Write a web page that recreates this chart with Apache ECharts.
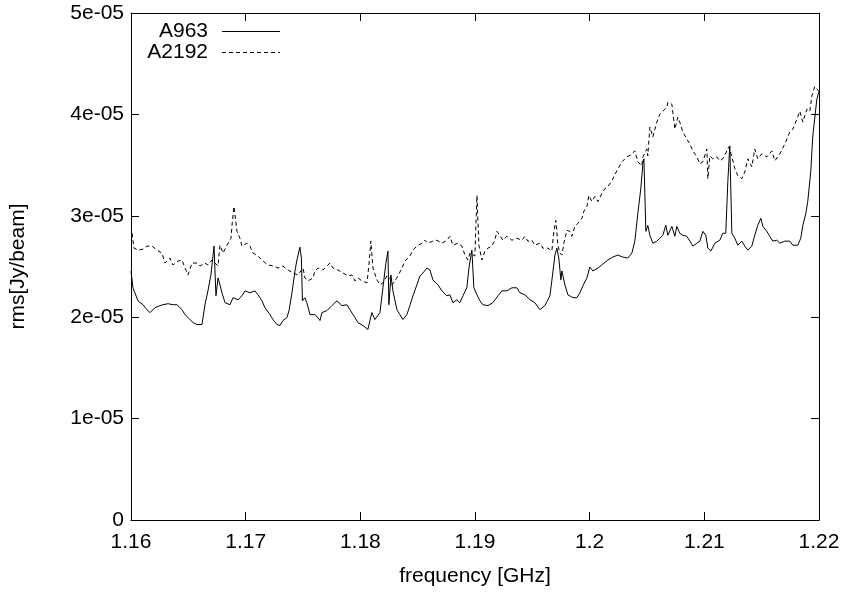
<!DOCTYPE html>
<html>
<head>
<meta charset="utf-8">
<script src="https://cdn.jsdelivr.net/npm/echarts@6/dist/echarts.min.js"></script>
<style>
  html, body { margin: 0; padding: 0; background: #fff; }
  #chart { width: 845px; height: 592px; }
</style>
</head>
<body>
<div id="chart"></div>
<script>
// Noise rms per channel for the two cluster fields.
// Frequencies in GHz, rms values in units of 1e-05 Jy/beam.
const a963Freq = [
  1.16000,1.16017,1.16061,1.16105,1.16139,1.16166,1.16209,1.16253,1.16279,1.16323,
  1.16366,1.16401,1.16445,1.16471,1.16514,1.16541,1.16575,1.16619,1.16628,1.16645,
  1.16671,1.16697,1.16724,1.16741,1.16759,1.16776,1.16793,1.16820,1.16863,1.16889,
  1.16933,1.16968,1.16994,1.17037,1.17081,1.17107,1.17142,1.17168,1.17212,1.17238,
  1.17273,1.17299,1.17325,1.17360,1.17378,1.17404,1.17430,1.17447,1.17473,1.17486,
  1.17495,1.17517,1.17534,1.17561,1.17604,1.17630,1.17648,1.17665,1.17709,1.17752,
  1.17796,1.17840,1.17883,1.17909,1.17953,1.17979,1.18023,1.18066,1.18084,1.18101,
  1.18127,1.18171,1.18197,1.18223,1.18241,1.18249,1.18267,1.18284,1.18319,1.18345,
  1.18371,1.18406,1.18432,1.18459,1.18493,1.18520,1.18546,1.18581,1.18607,1.18633,
  1.18677,1.18711,1.18755,1.18781,1.18807,1.18842,1.18868,1.18895,1.18929,1.18947,
  1.18973,1.18990,1.19017,1.19043,1.19069,1.19113,1.19156,1.19200,1.19235,1.19278,
  1.19322,1.19365,1.19391,1.19435,1.19479,1.19522,1.19566,1.19609,1.19653,1.19670,
  1.19697,1.19714,1.19731,1.19749,1.19758,1.19784,1.19810,1.19854,1.19888,1.19915,
  1.19941,1.19976,1.20002,1.20028,1.20072,1.20115,1.20159,1.20202,1.20246,1.20289,
  1.20333,1.20368,1.20394,1.20420,1.20446,1.20464,1.20473,1.20490,1.20507,1.20525,
  1.20551,1.20586,1.20612,1.20638,1.20664,1.20682,1.20717,1.20743,1.20760,1.20786,
  1.20813,1.20847,1.20874,1.20900,1.20935,1.20961,1.20987,1.21013,1.21031,1.21057,
  1.21092,1.21135,1.21161,1.21187,1.21205,1.21222,1.21240,1.21266,1.21292,1.21327,
  1.21353,1.21379,1.21414,1.21440,1.21466,1.21493,1.21510,1.21545,1.21571,1.21597,
  1.21632,1.21658,1.21702,1.21745,1.21772,1.21815,1.21841,1.21859,1.21885,1.21902,
  1.21928,1.21946,1.21981,1.22000
];
const a963Rms = [
  2.456,2.290,2.162,2.123,2.074,2.045,2.094,2.114,2.123,2.133,
  2.123,2.123,2.074,2.025,1.977,1.947,1.928,1.928,1.996,2.123,
  2.260,2.417,2.701,2.211,2.387,2.319,2.241,2.143,2.123,2.192,
  2.172,2.211,2.260,2.241,2.260,2.221,2.162,2.094,2.025,1.977,
  1.928,1.918,1.967,1.996,2.065,2.241,2.456,2.564,2.691,2.583,
  2.162,2.192,2.143,2.025,2.025,1.996,1.967,2.045,2.065,2.114,
  2.162,2.114,2.123,2.074,1.996,1.947,1.918,1.879,1.967,2.045,
  1.977,2.045,2.290,2.534,2.652,2.123,2.417,2.260,2.074,2.025,
  1.977,2.025,2.114,2.211,2.319,2.407,2.436,2.485,2.466,2.368,
  2.319,2.260,2.211,2.221,2.143,2.172,2.143,2.211,2.290,2.485,
  2.661,2.290,2.221,2.162,2.123,2.114,2.143,2.211,2.260,2.260,
  2.290,2.290,2.241,2.221,2.172,2.143,2.074,2.114,2.211,2.358,
  2.613,2.681,2.583,2.368,2.456,2.319,2.221,2.192,2.192,2.241,
  2.309,2.387,2.495,2.456,2.485,2.524,2.564,2.593,2.613,2.593,
  2.583,2.632,2.750,3.023,3.268,3.513,3.562,2.847,2.906,2.808,
  2.730,2.750,2.779,2.808,2.906,2.808,2.896,2.798,2.896,2.828,
  2.808,2.798,2.750,2.701,2.730,2.750,2.847,2.808,2.681,2.652,
  2.730,2.759,2.828,2.828,3.337,3.689,2.828,2.779,2.710,2.750,
  2.701,2.661,2.701,2.808,2.906,2.975,2.896,2.847,2.798,2.750,
  2.759,2.730,2.750,2.750,2.710,2.710,2.779,2.906,3.023,3.141,
  3.434,3.787,4.149,4.227
];

const a2192Freq = [
  1.16009,1.16026,1.16061,1.16105,1.16139,1.16183,1.16227,1.16270,1.16296,1.16340,
  1.16366,1.16410,1.16445,1.16471,1.16497,1.16532,1.16575,1.16602,1.16645,1.16671,
  1.16706,1.16732,1.16759,1.16776,1.16802,1.16837,1.16872,1.16881,1.16898,1.16924,
  1.16950,1.16968,1.17011,1.17037,1.17064,1.17107,1.17151,1.17194,1.17238,1.17282,
  1.17325,1.17369,1.17412,1.17456,1.17473,1.17500,1.17517,1.17543,1.17587,1.17604,
  1.17630,1.17674,1.17709,1.17735,1.17761,1.17805,1.17848,1.17892,1.17927,1.17953,
  1.17979,1.18014,1.18058,1.18075,1.18092,1.18110,1.18145,1.18171,1.18197,1.18232,
  1.18258,1.18276,1.18302,1.18328,1.18363,1.18389,1.18432,1.18459,1.18493,1.18537,
  1.18563,1.18589,1.18633,1.18668,1.18711,1.18755,1.18781,1.18807,1.18851,1.18886,
  1.18912,1.18938,1.18956,1.18999,1.19017,1.19034,1.19060,1.19086,1.19113,1.19147,
  1.19173,1.19191,1.19217,1.19243,1.19278,1.19322,1.19365,1.19409,1.19435,1.19461,
  1.19496,1.19522,1.19566,1.19592,1.19636,1.19670,1.19688,1.19705,1.19723,1.19740,
  1.19758,1.19775,1.19801,1.19827,1.19845,1.19871,1.19897,1.19932,1.19949,1.19976,
  1.19993,1.20019,1.20045,1.20072,1.20106,1.20133,1.20159,1.20194,1.20237,1.20281,
  1.20324,1.20359,1.20394,1.20420,1.20455,1.20464,1.20481,1.20499,1.20507,1.20525,
  1.20551,1.20586,1.20612,1.20638,1.20673,1.20682,1.20717,1.20725,1.20743,1.20769,
  1.20786,1.20813,1.20847,1.20874,1.20900,1.20935,1.20961,1.20987,1.21022,1.21031,
  1.21048,1.21074,1.21109,1.21135,1.21161,1.21196,1.21214,1.21240,1.21266,1.21292,
  1.21327,1.21353,1.21379,1.21414,1.21440,1.21466,1.21501,1.21545,1.21589,1.21615,
  1.21658,1.21702,1.21745,1.21772,1.21807,1.21833,1.21859,1.21894,1.21920,1.21937,
  1.21963,1.22000
];
const a2192Rms = [
  2.828,2.681,2.661,2.671,2.701,2.701,2.661,2.632,2.534,2.583,
  2.515,2.554,2.564,2.485,2.417,2.534,2.534,2.505,2.534,2.515,
  2.564,2.534,2.505,2.710,2.632,2.710,2.779,2.906,3.092,2.847,
  2.779,2.701,2.730,2.701,2.632,2.603,2.554,2.515,2.505,2.485,
  2.505,2.466,2.436,2.417,2.417,2.485,2.387,2.358,2.387,2.456,
  2.485,2.466,2.505,2.534,2.485,2.466,2.436,2.407,2.417,2.358,
  2.387,2.358,2.339,2.515,2.750,2.485,2.368,2.319,2.339,2.407,
  2.387,2.319,2.358,2.407,2.485,2.554,2.603,2.661,2.701,2.730,
  2.759,2.730,2.750,2.759,2.730,2.759,2.798,2.710,2.730,2.701,
  2.613,2.564,2.632,2.603,3.200,2.710,2.564,2.652,2.681,2.701,
  2.759,2.847,2.808,2.759,2.798,2.759,2.779,2.759,2.798,2.750,
  2.759,2.710,2.730,2.681,2.681,2.652,2.847,2.955,2.710,2.632,
  2.613,2.730,2.857,2.847,2.798,2.896,2.926,2.975,3.043,3.092,
  3.200,3.141,3.190,3.141,3.219,3.268,3.288,3.346,3.444,3.532,
  3.581,3.601,3.640,3.532,3.493,3.581,3.562,3.659,3.591,3.875,
  3.777,3.924,4.002,4.031,4.070,4.119,4.100,4.022,3.855,3.973,
  3.924,3.826,3.757,3.708,3.640,3.581,3.513,3.532,3.659,3.366,
  3.591,3.562,3.581,3.542,3.562,3.640,3.679,3.581,3.464,3.395,
  3.366,3.434,3.562,3.483,3.659,3.562,3.611,3.581,3.640,3.542,
  3.611,3.708,3.826,3.855,3.953,4.031,3.924,4.051,4.031,4.178,
  4.276,4.227
];

const xTicks = [1.16, 1.17, 1.18, 1.19, 1.20, 1.21, 1.22];
const xTickLabels = ['1.16', '1.17', '1.18', '1.19', '1.2', '1.21', '1.22'];
const yTicks = [0, 1, 2, 3, 4, 5];
const yTickLabels = ['0', '1e-05', '2e-05', '3e-05', '4e-05', '5e-05'];

const seriesNames = ['A963', 'A2192'];

function pairs(xs, ys) {
  return xs.map((x, i) => [x, ys[i]]);
}
function labelFor(ticks, labels, v) {
  let best = 0;
  for (let i = 1; i < ticks.length; i++) {
    if (Math.abs(ticks[i] - v) < Math.abs(ticks[best] - v)) best = i;
  }
  return labels[best];
}

const FONT = "'Liberation Sans', Arial, Helvetica, sans-serif";
const FONT_SIZE = 21;
const INK = '#000';

const baseX = {
  type: 'value', min: 1.16, max: 1.22, interval: 0.01,
  axisLine: { show: true, onZero: false, lineStyle: { color: INK, width: 1 } },
  axisTick: { show: true, inside: true, length: 8, lineStyle: { color: INK, width: 1 } },
  splitLine: { show: false }
};
const baseY = {
  type: 'value', min: 0, max: 5, interval: 1,
  axisLine: { show: true, onZero: false, lineStyle: { color: INK, width: 1 } },
  axisTick: { show: true, inside: true, length: 8, lineStyle: { color: INK, width: 1 } },
  splitLine: { show: false }
};

const chart = echarts.init(document.getElementById('chart'), null, { renderer: 'canvas' });
chart.setOption({
  animation: false,
  backgroundColor: '#fff',
  grid: { left: 131, right: 26, top: 13, bottom: 68, containLabel: false },
  xAxis: [
    Object.assign({}, baseX, {
      position: 'bottom',
      axisLabel: {
        color: INK, fontFamily: FONT, fontSize: FONT_SIZE, margin: 12,
        formatter: v => labelFor(xTicks, xTickLabels, v)
      },
      name: 'frequency [GHz]', nameLocation: 'middle', nameGap: 46,
      nameTextStyle: { color: INK, fontFamily: FONT, fontSize: FONT_SIZE }
    }),
    Object.assign({}, baseX, { position: 'top', axisLabel: { show: false } })
  ],
  yAxis: [
    Object.assign({}, baseY, {
      position: 'left',
      axisLabel: {
        color: INK, fontFamily: FONT, fontSize: FONT_SIZE, margin: 7,
        formatter: v => labelFor(yTicks, yTickLabels, v)
      },
      name: 'rms[Jy/beam]', nameLocation: 'middle', nameGap: 102,
      nameTextStyle: { color: INK, fontFamily: FONT, fontSize: FONT_SIZE }
    }),
    Object.assign({}, baseY, { position: 'right', axisLabel: { show: false } })
  ],
  series: [
    {
      name: seriesNames[0], type: 'line', xAxisIndex: 0, yAxisIndex: 0,
      data: pairs(a963Freq, a963Rms),
      symbol: 'none', showSymbol: false,
      lineStyle: { color: INK, width: 1, type: 'solid' }
    },
    {
      name: seriesNames[1], type: 'line', xAxisIndex: 0, yAxisIndex: 0,
      data: pairs(a2192Freq, a2192Rms),
      symbol: 'none', showSymbol: false,
      lineStyle: { color: INK, width: 1, type: [4, 3] }
    }
  ],
  // key in the upper left corner: right-aligned names with line samples
  graphic: [
    { type: 'text', x: 208, y: 31,
      style: { text: seriesNames[0], fill: INK, font: FONT_SIZE + 'px ' + FONT, textAlign: 'right', textVerticalAlign: 'middle' } },
    { type: 'line', shape: { x1: 222, y1: 31.5, x2: 280, y2: 31.5 },
      style: { stroke: INK, lineWidth: 1 } },
    { type: 'text', x: 208, y: 52,
      style: { text: seriesNames[1], fill: INK, font: FONT_SIZE + 'px ' + FONT, textAlign: 'right', textVerticalAlign: 'middle' } },
    { type: 'line', shape: { x1: 222, y1: 52.5, x2: 280, y2: 52.5 },
      style: { stroke: INK, lineWidth: 1, lineDash: [4, 3] } }
  ]
});
</script>
</body>
</html>
